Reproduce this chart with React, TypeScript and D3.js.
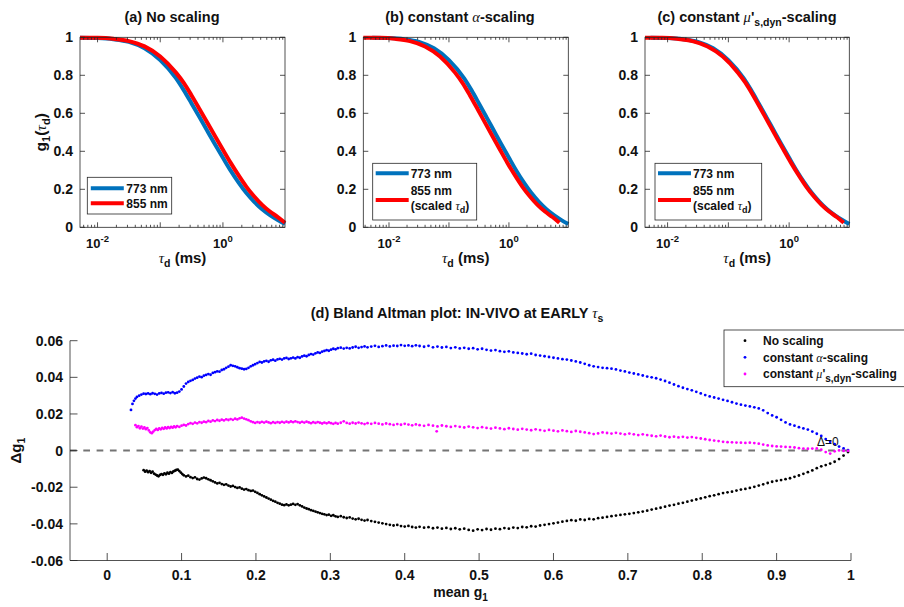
import React from 'react';
import * as d3 from 'd3';

// ---------- Top panels data (tau in ms, g1 values) ----------
const tau773 = [0.00525, 0.01, 0.0178, 0.0316, 0.0562, 0.1, 0.178, 0.237, 0.316, 0.422, 0.562, 0.75, 1.0, 1.33, 1.78, 2.37, 3.16, 4.22, 5.62, 7.5, 9.77];
const g773 = [0.998, 0.996, 0.99, 0.976, 0.942, 0.88, 0.785, 0.722, 0.652, 0.58, 0.508, 0.436, 0.366, 0.298, 0.235, 0.18, 0.134, 0.095, 0.064, 0.038, 0.017];
const tau855 = [0.00525, 0.01, 0.0178, 0.0316, 0.0562, 0.1, 0.178, 0.237, 0.316, 0.422, 0.562, 0.75, 1.0, 1.33, 1.78, 2.37, 3.16, 4.22, 5.62, 7.5, 9.77];
const g855 = [0.998, 0.997, 0.992, 0.98, 0.952, 0.899, 0.814, 0.76, 0.694, 0.623, 0.551, 0.479, 0.408, 0.339, 0.273, 0.213, 0.162, 0.118, 0.083, 0.054, 0.024];
const tau855Alpha = [0.00373, 0.0071, 0.01264, 0.0224, 0.0399, 0.071, 0.1264, 0.168, 0.224, 0.2996, 0.399, 0.5325, 0.71, 0.944, 1.264, 1.683, 2.244, 2.996, 3.99, 5.325, 6.94];
const tau855Mu = [0.00425, 0.0081, 0.0144, 0.0256, 0.0455, 0.081, 0.144, 0.192, 0.256, 0.342, 0.455, 0.6075, 0.81, 1.077, 1.442, 1.92, 2.56, 3.418, 4.552, 6.075, 7.91];
const yTicksTop = [0, 0.2, 0.4, 0.6, 0.8, 1];
const yTickLabelsTop = ['0', '0.2', '0.4', '0.6', '0.8', '1'];
const xMajorExpTop = [-2, 0];

// ---------- Bland-Altman data [mean g1, delta g1] ----------
const noScaling: [number, number][] = [
[0.049,-0.0107],[0.051,-0.0115],[0.053,-0.0109],[0.055,-0.0118],[0.057,-0.0112],[0.059,-0.0121],[0.061,-0.0115],[0.063,-0.0126],[0.065,-0.0131],[0.067,-0.0136],
[0.069,-0.0140],[0.071,-0.0133],[0.073,-0.0128],[0.075,-0.0132],[0.077,-0.0124],[0.079,-0.0129],[0.081,-0.0121],[0.083,-0.0126],[0.085,-0.0118],[0.087,-0.0122],
[0.089,-0.0114],[0.091,-0.0110],[0.093,-0.0106],[0.095,-0.0104],[0.097,-0.0112],[0.099,-0.0120],[0.101,-0.0128],[0.103,-0.0135],[0.106,-0.0141],[0.109,-0.0137],
[0.112,-0.0145],[0.115,-0.0150],[0.118,-0.0146],[0.121,-0.0155],[0.124,-0.0158],[0.127,-0.0152],[0.130,-0.0147],[0.133,-0.0151],[0.136,-0.0157],[0.139,-0.0162],
[0.142,-0.0168],[0.145,-0.0174],[0.148,-0.0179],[0.151,-0.0176],[0.154,-0.0183],[0.157,-0.0187],[0.160,-0.0184],[0.163,-0.0191],[0.166,-0.0196],[0.169,-0.0193],
[0.172,-0.0199],[0.175,-0.0204],[0.178,-0.0201],[0.181,-0.0208],[0.184,-0.0213],[0.187,-0.0210],[0.190,-0.0216],[0.193,-0.0220],[0.196,-0.0218],[0.199,-0.0225],
[0.202,-0.0231],[0.205,-0.0238],[0.208,-0.0244],[0.211,-0.0250],[0.214,-0.0256],[0.217,-0.0262],[0.220,-0.0268],[0.223,-0.0274],[0.226,-0.0279],[0.229,-0.0285],
[0.232,-0.0290],[0.235,-0.0295],[0.238,-0.0298],[0.241,-0.0294],[0.244,-0.0299],[0.247,-0.0295],[0.250,-0.0291],[0.253,-0.0296],[0.256,-0.0292],[0.259,-0.0299],
[0.262,-0.0305],[0.265,-0.0311],[0.268,-0.0316],[0.271,-0.0320],[0.274,-0.0325],[0.277,-0.0329],[0.280,-0.0333],[0.283,-0.0337],[0.286,-0.0341],[0.289,-0.0345],
[0.292,-0.0348],[0.295,-0.0352],[0.298,-0.0350],[0.301,-0.0356],[0.304,-0.0353],[0.307,-0.0359],[0.310,-0.0362],[0.314,-0.0358],[0.318,-0.0364],[0.322,-0.0368],
[0.326,-0.0365],[0.330,-0.0371],[0.334,-0.0375],[0.338,-0.0372],[0.342,-0.0378],[0.346,-0.0382],[0.350,-0.0379],[0.355,-0.0385],[0.360,-0.0389],[0.365,-0.0393],
[0.370,-0.0397],[0.375,-0.0401],[0.380,-0.0405],[0.385,-0.0409],[0.390,-0.0406],[0.395,-0.0412],[0.400,-0.0415],[0.405,-0.0411],[0.410,-0.0417],[0.415,-0.0420],
[0.420,-0.0416],[0.426,-0.0421],[0.432,-0.0418],[0.438,-0.0424],[0.444,-0.0420],[0.450,-0.0426],[0.456,-0.0422],[0.462,-0.0428],[0.468,-0.0424],[0.474,-0.0430],
[0.480,-0.0426],[0.486,-0.0433],[0.492,-0.0437],[0.498,-0.0430],[0.504,-0.0434],[0.510,-0.0428],[0.516,-0.0432],[0.522,-0.0426],[0.528,-0.0429],[0.534,-0.0423],
[0.540,-0.0426],[0.546,-0.0420],[0.552,-0.0423],[0.558,-0.0417],[0.564,-0.0419],[0.570,-0.0413],[0.576,-0.0415],[0.582,-0.0409],[0.588,-0.0405],[0.594,-0.0401],
[0.600,-0.0397],[0.606,-0.0393],[0.612,-0.0388],[0.618,-0.0384],[0.624,-0.0380],[0.630,-0.0383],[0.636,-0.0376],[0.642,-0.0379],[0.648,-0.0373],[0.654,-0.0375],
[0.660,-0.0369],[0.666,-0.0366],[0.672,-0.0362],[0.678,-0.0358],[0.684,-0.0355],[0.690,-0.0351],[0.696,-0.0348],[0.702,-0.0345],[0.708,-0.0341],[0.714,-0.0337],
[0.720,-0.0333],[0.726,-0.0328],[0.732,-0.0322],[0.738,-0.0317],[0.744,-0.0312],[0.750,-0.0306],[0.756,-0.0300],[0.762,-0.0296],[0.768,-0.0290],[0.774,-0.0285],
[0.780,-0.0279],[0.786,-0.0273],[0.792,-0.0267],[0.798,-0.0261],[0.804,-0.0255],[0.810,-0.0249],[0.816,-0.0244],[0.822,-0.0238],[0.828,-0.0232],[0.834,-0.0228],
[0.840,-0.0224],[0.846,-0.0218],[0.852,-0.0213],[0.858,-0.0209],[0.864,-0.0204],[0.870,-0.0198],[0.876,-0.0191],[0.882,-0.0184],[0.888,-0.0177],[0.894,-0.0170],
[0.900,-0.0165],[0.906,-0.0161],[0.912,-0.0156],[0.918,-0.0151],[0.924,-0.0143],[0.930,-0.0136],[0.936,-0.0127],[0.942,-0.0118],[0.948,-0.0108],[0.954,-0.0096],
[0.960,-0.0086],[0.966,-0.0079],[0.972,-0.0071],[0.978,-0.0061],[0.984,-0.0046],[0.990,-0.0027],[0.996,-0.0008]
];
const alphaScaling: [number, number][] = [
[0.032,0.0222],[0.034,0.0255],[0.036,0.0272],[0.038,0.0284],[0.040,0.0293],[0.043,0.0300],[0.046,0.0306],[0.049,0.0311],[0.052,0.0309],[0.055,0.0312],
[0.058,0.0308],[0.061,0.0313],[0.064,0.0310],[0.067,0.0306],[0.070,0.0312],[0.073,0.0315],[0.076,0.0311],[0.079,0.0316],[0.082,0.0318],[0.085,0.0314],
[0.088,0.0319],[0.091,0.0313],[0.094,0.0316],[0.097,0.0322],[0.100,0.0334],[0.103,0.0350],[0.106,0.0366],[0.109,0.0375],[0.112,0.0381],[0.115,0.0386],
[0.118,0.0393],[0.121,0.0398],[0.124,0.0404],[0.127,0.0401],[0.130,0.0409],[0.133,0.0413],[0.136,0.0418],[0.139,0.0414],[0.142,0.0424],[0.145,0.0428],
[0.148,0.0433],[0.151,0.0431],[0.154,0.0440],[0.157,0.0444],[0.160,0.0452],[0.163,0.0458],[0.166,0.0466],[0.169,0.0463],[0.172,0.0460],[0.175,0.0455],
[0.178,0.0450],[0.181,0.0447],[0.184,0.0444],[0.187,0.0446],[0.190,0.0452],[0.193,0.0460],[0.196,0.0466],[0.199,0.0472],[0.202,0.0478],[0.205,0.0484],
[0.208,0.0481],[0.211,0.0487],[0.214,0.0490],[0.217,0.0485],[0.220,0.0493],[0.223,0.0496],[0.226,0.0491],[0.229,0.0498],[0.232,0.0501],[0.235,0.0497],
[0.238,0.0503],[0.241,0.0506],[0.244,0.0500],[0.247,0.0504],[0.250,0.0508],[0.253,0.0503],[0.256,0.0510],[0.259,0.0507],[0.262,0.0514],[0.265,0.0518],
[0.268,0.0515],[0.271,0.0522],[0.274,0.0527],[0.277,0.0524],[0.280,0.0531],[0.283,0.0536],[0.286,0.0533],[0.289,0.0540],[0.292,0.0544],[0.295,0.0548],
[0.298,0.0545],[0.301,0.0551],[0.304,0.0556],[0.307,0.0553],[0.310,0.0559],[0.314,0.0562],[0.318,0.0557],[0.322,0.0561],[0.326,0.0558],[0.330,0.0563],
[0.334,0.0567],[0.338,0.0561],[0.342,0.0565],[0.346,0.0569],[0.350,0.0564],[0.355,0.0568],[0.360,0.0572],[0.365,0.0566],[0.370,0.0570],[0.375,0.0574],
[0.380,0.0569],[0.385,0.0573],[0.390,0.0571],[0.395,0.0576],[0.400,0.0572],[0.405,0.0574],[0.410,0.0570],[0.415,0.0575],[0.420,0.0571],[0.426,0.0567],
[0.432,0.0572],[0.438,0.0564],[0.444,0.0568],[0.450,0.0563],[0.456,0.0566],[0.462,0.0560],[0.468,0.0564],[0.474,0.0558],[0.480,0.0561],[0.486,0.0556],
[0.492,0.0559],[0.498,0.0553],[0.504,0.0556],[0.510,0.0550],[0.516,0.0546],[0.522,0.0549],[0.528,0.0543],[0.534,0.0539],[0.540,0.0542],[0.546,0.0536],
[0.552,0.0533],[0.558,0.0530],[0.564,0.0526],[0.570,0.0529],[0.576,0.0522],[0.582,0.0519],[0.588,0.0515],[0.594,0.0511],[0.600,0.0507],[0.606,0.0503],
[0.612,0.0499],[0.618,0.0497],[0.624,0.0492],[0.630,0.0487],[0.636,0.0481],[0.642,0.0474],[0.648,0.0466],[0.654,0.0460],[0.660,0.0456],[0.666,0.0452],
[0.672,0.0450],[0.678,0.0447],[0.684,0.0443],[0.690,0.0437],[0.696,0.0432],[0.702,0.0426],[0.708,0.0421],[0.714,0.0416],[0.720,0.0410],[0.726,0.0404],
[0.732,0.0400],[0.738,0.0395],[0.744,0.0388],[0.750,0.0380],[0.756,0.0371],[0.762,0.0361],[0.768,0.0352],[0.774,0.0343],[0.780,0.0336],[0.786,0.0329],
[0.792,0.0321],[0.798,0.0312],[0.804,0.0303],[0.810,0.0296],[0.816,0.0290],[0.822,0.0284],[0.828,0.0277],[0.834,0.0271],[0.840,0.0264],[0.846,0.0257],
[0.852,0.0251],[0.858,0.0246],[0.864,0.0241],[0.870,0.0236],[0.876,0.0230],[0.882,0.0220],[0.888,0.0205],[0.894,0.0192],[0.900,0.0182],[0.906,0.0168],
[0.912,0.0154],[0.918,0.0143],[0.924,0.0136],[0.930,0.0128],[0.936,0.0121],[0.942,0.0115],[0.948,0.0104],[0.954,0.0092],[0.960,0.0080],[0.966,0.0063],
[0.972,0.0048],[0.978,0.0035],[0.984,0.0022],[0.990,0.0012],[0.996,0.0003]
];
const muScaling: [number, number][] = [
[0.038,0.0139],[0.040,0.0128],[0.042,0.0134],[0.044,0.0122],[0.046,0.0131],[0.048,0.0120],[0.050,0.0126],[0.052,0.0117],[0.054,0.0123],[0.056,0.0110],
[0.058,0.0100],[0.060,0.0095],[0.062,0.0104],[0.064,0.0112],[0.066,0.0118],[0.068,0.0113],[0.070,0.0121],[0.072,0.0116],[0.074,0.0124],[0.076,0.0119],
[0.078,0.0126],[0.080,0.0121],[0.082,0.0128],[0.084,0.0123],[0.086,0.0130],[0.088,0.0125],[0.090,0.0132],[0.092,0.0127],[0.094,0.0134],[0.097,0.0129],
[0.100,0.0136],[0.103,0.0140],[0.106,0.0137],[0.109,0.0145],[0.112,0.0150],[0.115,0.0146],[0.118,0.0153],[0.121,0.0149],[0.124,0.0156],[0.127,0.0152],
[0.130,0.0158],[0.133,0.0155],[0.136,0.0162],[0.139,0.0158],[0.142,0.0165],[0.145,0.0161],[0.148,0.0167],[0.151,0.0163],[0.154,0.0169],[0.157,0.0165],
[0.160,0.0171],[0.163,0.0167],[0.166,0.0172],[0.169,0.0168],[0.172,0.0174],[0.175,0.0170],[0.178,0.0176],[0.181,0.0180],[0.184,0.0175],[0.187,0.0171],
[0.190,0.0166],[0.193,0.0160],[0.196,0.0155],[0.199,0.0151],[0.202,0.0156],[0.205,0.0152],[0.208,0.0157],[0.211,0.0153],[0.214,0.0158],[0.217,0.0154],
[0.220,0.0150],[0.223,0.0155],[0.226,0.0151],[0.229,0.0156],[0.232,0.0152],[0.235,0.0157],[0.238,0.0153],[0.241,0.0158],[0.244,0.0154],[0.247,0.0159],
[0.250,0.0155],[0.253,0.0160],[0.256,0.0156],[0.259,0.0152],[0.262,0.0157],[0.265,0.0153],[0.268,0.0158],[0.271,0.0154],[0.274,0.0150],[0.277,0.0155],
[0.280,0.0151],[0.283,0.0156],[0.286,0.0152],[0.289,0.0148],[0.292,0.0153],[0.295,0.0149],[0.298,0.0154],[0.301,0.0150],[0.304,0.0146],[0.307,0.0151],
[0.310,0.0147],[0.314,0.0152],[0.318,0.0160],[0.322,0.0151],[0.326,0.0147],[0.330,0.0152],[0.334,0.0148],[0.338,0.0153],[0.342,0.0149],[0.346,0.0145],
[0.350,0.0150],[0.355,0.0146],[0.360,0.0151],[0.365,0.0147],[0.370,0.0143],[0.375,0.0148],[0.380,0.0144],[0.385,0.0140],[0.390,0.0145],[0.395,0.0141],
[0.400,0.0146],[0.405,0.0142],[0.410,0.0138],[0.415,0.0143],[0.420,0.0139],[0.426,0.0135],[0.432,0.0140],[0.438,0.0136],[0.443,0.0105],[0.444,0.0132],
[0.450,0.0137],[0.456,0.0133],[0.462,0.0129],[0.468,0.0134],[0.474,0.0130],[0.480,0.0126],[0.486,0.0131],[0.492,0.0127],[0.498,0.0123],[0.504,0.0128],
[0.510,0.0124],[0.516,0.0120],[0.522,0.0125],[0.528,0.0121],[0.534,0.0117],[0.540,0.0122],[0.546,0.0118],[0.552,0.0114],[0.558,0.0119],[0.564,0.0115],
[0.570,0.0111],[0.576,0.0116],[0.582,0.0112],[0.588,0.0108],[0.594,0.0113],[0.600,0.0109],[0.606,0.0105],[0.612,0.0110],[0.618,0.0106],[0.624,0.0102],
[0.630,0.0107],[0.636,0.0103],[0.642,0.0099],[0.648,0.0095],[0.654,0.0090],[0.660,0.0094],[0.666,0.0099],[0.672,0.0096],[0.678,0.0093],[0.684,0.0097],
[0.690,0.0093],[0.696,0.0089],[0.702,0.0093],[0.708,0.0089],[0.714,0.0085],[0.720,0.0089],[0.726,0.0085],[0.732,0.0081],[0.738,0.0078],[0.744,0.0082],
[0.750,0.0077],[0.756,0.0073],[0.762,0.0076],[0.768,0.0072],[0.774,0.0075],[0.780,0.0071],[0.786,0.0074],[0.792,0.0070],[0.798,0.0066],[0.804,0.0062],
[0.810,0.0058],[0.816,0.0055],[0.822,0.0052],[0.828,0.0048],[0.834,0.0046],[0.840,0.0045],[0.846,0.0044],[0.852,0.0043],[0.858,0.0042],[0.864,0.0043],
[0.870,0.0041],[0.876,0.0038],[0.882,0.0033],[0.888,0.0028],[0.894,0.0025],[0.900,0.0023],[0.906,0.0022],[0.912,0.0020],[0.918,0.0019],[0.924,0.0017],
[0.930,0.0013],[0.936,0.0011],[0.942,0.0010],[0.948,0.0011],[0.954,0.0012],[0.960,0.0005],[0.966,-0.0008],[0.972,-0.0016],[0.978,-0.0004],[0.984,0.0001],
[0.990,-0.0002],[0.996,-0.0001]
];
const baXTicks = [0, 0.1, 0.2, 0.3, 0.4, 0.5, 0.6, 0.7, 0.8, 0.9, 1];
const baXTickLabels = ['0', '0.1', '0.2', '0.3', '0.4', '0.5', '0.6', '0.7', '0.8', '0.9', '1'];
const baYTicks = [-0.06, -0.04, -0.02, 0, 0.02, 0.04, 0.06];
const baYTickLabels = ['-0.06', '-0.04', '-0.02', '0', '0.02', '0.04', '0.06'];

const FONT = "'Liberation Sans', Arial, Helvetica, sans-serif";
const GREEK = "'Liberation Serif', 'DejaVu Serif', serif";
const AX = '#262626';
const TXT = '#111';
const BLUE = '#0072BD';
const RED = '#FF0000';
const DOT_R = 1.4;

type Curve = { tau: number[]; g: number[]; color: string };

function Greek({ ch }: { ch: string }) {
  return <tspan fontFamily={GREEK} fontStyle="italic" fontWeight="normal">{ch}</tspan>;
}

function LogPanel(props: {
  x0: number; width: number; y0: number; height: number; titleX: number;
  curves: Curve[]; title: React.ReactNode; legend: React.ReactNode; showYLabel?: boolean;
}) {
  const { x0, width, y0, height, curves, title, legend, showYLabel, titleX } = props;
  const all = curves.flatMap(c => c.tau);
  const dom = d3.extent(all) as [number, number];
  const x = d3.scaleLog().domain(dom).range([x0, x0 + width]);
  const y = d3.scaleLinear().domain([0, 1]).range([y0 + height, y0]);
  const line = d3.line<[number, number]>().x(d => x(d[0])).y(d => y(d[1])).curve(d3.curveMonotoneX);
  const ticks: { v: number; major: boolean }[] = [];
  const k0 = Math.floor(Math.log10(dom[0])), k1 = Math.ceil(Math.log10(dom[1]));
  for (let k = k0; k <= k1; k++) {
    for (let m = 1; m <= 9; m++) {
      const v = m * Math.pow(10, k);
      if (v >= dom[0] && v <= dom[1]) ticks.push({ v, major: m === 1 });
    }
  }
  const yb = y0 + height;
  const cx = x0 + width / 2;
  return (
    <g>
      <rect x={x0} y={y0} width={width} height={height} fill="#fff" />
      {curves.map((c, i) => (
        <path key={i} d={line(c.tau.map((t, j) => [t, c.g[j]] as [number, number])) || ''}
          fill="none" stroke={c.color} strokeWidth={4} strokeLinejoin="round" />
      ))}
      <rect x={x0} y={y0} width={width} height={height} fill="none" stroke={AX} strokeWidth={0.8} />
      {ticks.map((t, i) => {
        const L = t.major ? 5 : 2.5;
        const px = x(t.v);
        return (
          <g key={i}>
            <line x1={px} x2={px} y1={yb} y2={yb - L} stroke={AX} strokeWidth={0.8} />
            <line x1={px} x2={px} y1={y0} y2={y0 + L} stroke={AX} strokeWidth={0.8} />
          </g>
        );
      })}
      {yTicksTop.map((v, i) => (
        <g key={i}>
          <line x1={x0} x2={x0 + 5} y1={y(v)} y2={y(v)} stroke={AX} strokeWidth={0.8} />
          <line x1={x0 + width} x2={x0 + width - 5} y1={y(v)} y2={y(v)} stroke={AX} strokeWidth={0.8} />
          <text x={x0 - 7} y={y(v) + 5} textAnchor="end" fontSize={14} fontWeight="bold" fill={TXT}>{yTickLabelsTop[i]}</text>
        </g>
      ))}
      {xMajorExpTop.map((e, i) => (
        <text key={i} x={x(Math.pow(10, e))} y={yb + 21} textAnchor="middle" fontSize={13} fontWeight="bold" fill={TXT}>
          10<tspan fontSize={9.5} dy={-6}>{e === 0 ? '0' : String(e)}</tspan>
        </text>
      ))}
      <text x={cx} y={yb + 36} textAnchor="middle" fontSize={15} fontWeight="bold" fill={TXT}>
        <Greek ch="τ" /><tspan fontSize={10.5} dy={4}>d</tspan><tspan dy={-4}> (ms)</tspan>
      </text>
      <text x={titleX} y={22} textAnchor="middle" fontSize={14.5} fontWeight="bold" fill={TXT}>{title}</text>
      {showYLabel && (
        <text transform={`translate(${x0 - 34},${y0 + height / 2}) rotate(-90)`} textAnchor="middle" fontSize={15.5} fontWeight="bold" fill={TXT}>
          g<tspan fontSize={11} dy={4}>1</tspan><tspan dy={-4}>(</tspan><Greek ch="τ" /><tspan fontSize={11} dy={4}>d</tspan><tspan dy={-4}>)</tspan>
        </text>
      )}
      {legend}
    </g>
  );
}

function LegendTwo(props: { x: number; y: number; w: number; h: number }) {
  const { x, y, w, h } = props;
  return (
    <g fontSize={12} fontWeight="bold" fill={TXT}>
      <rect x={x} y={y} width={w} height={h} fill="#fff" stroke={AX} strokeWidth={0.8} />
      <line x1={x + 3.5} x2={x + 36.5} y1={y + 11} y2={y + 11} stroke={BLUE} strokeWidth={4} />
      <line x1={x + 3.5} x2={x + 36.5} y1={y + 26} y2={y + 26} stroke={RED} strokeWidth={4} />
      <text x={x + 39} y={y + 15.3}>773 nm</text>
      <text x={x + 39} y={y + 30.5}>855 nm</text>
    </g>
  );
}

function LegendScaled(props: { x: number; y: number; w: number; h: number }) {
  const { x, y, w, h } = props;
  return (
    <g fontSize={12} fontWeight="bold" fill={TXT}>
      <rect x={x} y={y} width={w} height={h} fill="#fff" stroke={AX} strokeWidth={0.8} />
      <line x1={x + 3} x2={x + 36} y1={y + 10} y2={y + 10} stroke={BLUE} strokeWidth={4} />
      <line x1={x + 3} x2={x + 36} y1={y + 36.7} y2={y + 36.7} stroke={RED} strokeWidth={4} />
      <text x={x + 38} y={y + 14.3}>773 nm</text>
      <text x={x + 38} y={y + 31.5}>855 nm</text>
      <text x={x + 38} y={y + 46.5}>(scaled <Greek ch="τ" /><tspan fontSize={9} dy={3.5}>d</tspan><tspan dy={-3.5}>)</tspan></text>
    </g>
  );
}

function BlandAltman() {
  const x = d3.scaleLinear().domain([-0.05, 1]).range([70, 851]);
  const y = d3.scaleLinear().domain([-0.06, 0.06]).range([560.5, 340.7]);
  const series = [
    { data: noScaling, color: '#000000' },
    { data: alphaScaling, color: '#0000FF' },
    { data: muScaling, color: '#FF00FF' },
  ];
  const yb = 560.5;
  return (
    <g>
      <line x1={x(-0.05)} x2={x(1)} y1={y(0)} y2={y(0)} stroke="#747474" strokeWidth={2} strokeDasharray="6.7 6.6" />
      {series.map((s, i) => (
        <g key={i} fill={s.color}>
          {s.data.map((d, j) => <circle key={j} cx={x(d[0])} cy={y(d[1])} r={DOT_R} />)}
        </g>
      ))}
      <line x1={70} x2={851} y1={yb} y2={yb} stroke={AX} strokeWidth={0.8} />
      <line x1={70} x2={70} y1={y(0.06)} y2={yb} stroke={AX} strokeWidth={0.8} />
      {baXTicks.map((v, i) => (
        <g key={i}>
          <line x1={x(v)} x2={x(v)} y1={yb} y2={yb - 7.5} stroke={AX} strokeWidth={0.8} />
          <text x={x(v)} y={yb + 19.5} textAnchor="middle" fontSize={14} fontWeight="bold" fill={TXT}>{baXTickLabels[i]}</text>
        </g>
      ))}
      {baYTicks.map((v, i) => (
        <g key={i}>
          <line x1={70} x2={77.5} y1={y(v)} y2={y(v)} stroke={AX} strokeWidth={0.8} />
          <text x={63} y={y(v) + 5} textAnchor="end" fontSize={14} fontWeight="bold" fill={TXT}>{baYTickLabels[i]}</text>
        </g>
      ))}
      <text x={817} y={446} fontSize={12} fill={TXT}>Δ=0</text>
      <text x={457} y={318} textAnchor="middle" fontSize={14.5} fontWeight="bold" fill={TXT}>
        (d) Bland Altman plot: IN-VIVO at EARLY <Greek ch="τ" /><tspan fontSize={10.5} dy={4}>s</tspan>
      </text>
      <text x={460.5} y={597} textAnchor="middle" fontSize={14} fontWeight="bold" fill={TXT}>
        mean g<tspan fontSize={10} dy={4}>1</tspan>
      </text>
      <text transform={`translate(21,${y(0)}) rotate(-90)`} textAnchor="middle" fontSize={15} fontWeight="bold" fill={TXT}>
        Δg<tspan fontSize={10.5} dy={4}>1</tspan>
      </text>
      <g fontSize={12} fontWeight="bold" fill={TXT}>
        <rect x={724} y={330} width={190} height={56.7} fill="#fff" stroke={AX} strokeWidth={0.8} />
        <circle cx={745} cy={340.7} r={DOT_R} fill="#000000" />
        <circle cx={745} cy={357.3} r={DOT_R} fill="#0000FF" />
        <circle cx={745} cy={374} r={DOT_R} fill="#FF00FF" />
        <text x={763} y={345}>No scaling</text>
        <text x={763} y={361.5}>constant <Greek ch="α" />-scaling</text>
        <text x={763} y={377.5}>constant <Greek ch="μ" />'<tspan fontSize={10} dy={4}>s,dyn</tspan><tspan dy={-4}>-scaling</tspan></text>
      </g>
    </g>
  );
}

export default function App() {
  const y0 = 37.3, h = 190, w = 205;
  return (
    <svg width={904} height={607} style={{ position: 'absolute', left: 0, top: 0, background: '#fff' }} fontFamily={FONT}>
      <rect x={0} y={0} width={904} height={607} fill="#fff" />
      <LogPanel x0={80} width={w} y0={y0} height={h} showYLabel titleX={172}
        curves={[{ tau: tau773, g: g773, color: BLUE }, { tau: tau855, g: g855, color: RED }]}
        title={<>(a) No scaling</>}
        legend={<LegendTwo x={87.3} y={177.3} w={84.4} h={36.7} />} />
      <LogPanel x0={363.3} width={w} y0={y0} height={h} titleX={460}
        curves={[{ tau: tau773, g: g773, color: BLUE }, { tau: tau855Alpha, g: g855, color: RED }]}
        title={<>(b) constant <Greek ch="α" />-scaling</>}
        legend={<LegendScaled x={372.7} y={163.3} w={104} h={56.7} />} />
      <LogPanel x0={645} width={204.3} y0={y0} height={h} titleX={747}
        curves={[{ tau: tau773, g: g773, color: BLUE }, { tau: tau855Mu, g: g855, color: RED }]}
        title={<>(c) constant <Greek ch="μ" />'<tspan fontSize={10.5} dy={4}>s,dyn</tspan><tspan dy={-4}>-scaling</tspan></>}
        legend={<LegendScaled x={655} y={163.3} w={106.7} h={56.7} />} />
      <BlandAltman />
    </svg>
  );
}
